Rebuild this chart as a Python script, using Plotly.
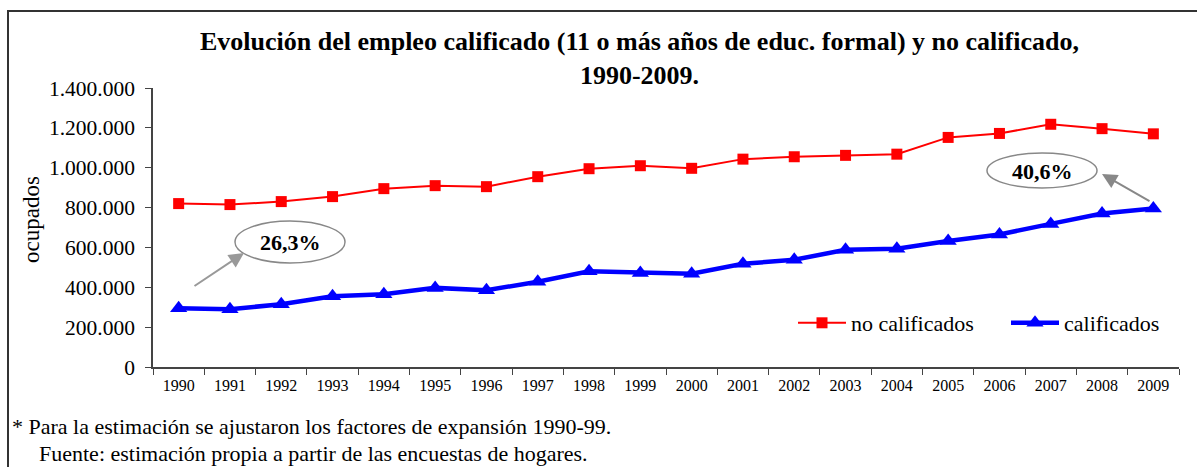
import plotly.graph_objects as go

years = [str(y) for y in range(1990, 2010)]
no_calificados = [820000, 815000, 830000, 855000, 895000, 910000, 905000, 955000, 995000, 1010000,
                  997000, 1043000, 1055000, 1062000, 1068000, 1152000, 1172000, 1218000, 1196000, 1170000]
calificados = [295000, 290000, 315000, 355000, 365000, 397000, 385000, 428000, 480000, 472000,
               468000, 518000, 538000, 588000, 593000, 632000, 665000, 718000, 770000, 795000]
y_ticks = [0, 200000, 400000, 600000, 800000, 1000000, 1200000, 1400000]

W, H = 1197, 467
ML, MR, MT, MB = 153, 18, 88, 100
PW, PH = W - ML - MR, H - MT - MB

def px(x):
    return (x - ML) / PW

def py(y):
    return (H - MB - y) / PH

FONT = "Liberation Serif, Times New Roman, serif"

fig = go.Figure()
fig.add_trace(go.Scatter(
    x=years, y=no_calificados, name="no calificados", mode="lines+markers",
    line=dict(color="#ff0000", width=2),
    marker=dict(symbol="square", size=11, color="#ff0000"),
))
fig.add_trace(go.Scatter(
    x=years, y=calificados, name="calificados", mode="lines+markers",
    line=dict(color="#0000ff", width=4.5),
    marker=dict(symbol="triangle-up", size=15, color="#0000ff"),
))

shapes = [
    # outer border
    dict(type="rect", xref="paper", yref="paper", x0=px(8), y0=py(480), x1=px(1210), y1=py(11),
         line=dict(color="#333333", width=2), layer="below"),
    # ellipses
    dict(type="circle", xref="paper", yref="paper", x0=px(235), x1=px(345), y0=py(263), y1=py(221),
         line=dict(color="#888888", width=1.5), fillcolor="white"),
    dict(type="circle", xref="paper", yref="paper", x0=px(987), x1=px(1097), y0=py(188), y1=py(153),
         line=dict(color="#888888", width=1.5), fillcolor="white"),
]

annotations = [
    dict(text="<b>Evolución del empleo calificado (11 o más años de educ. formal) y no calificado,<br>1990-2009.</b>",
         xref="paper", yref="paper", x=px(639), y=py(58), xanchor="center", yanchor="middle",
         showarrow=False, font=dict(family=FONT, size=26, color="black")),
    dict(text="ocupados", xref="paper", yref="paper", x=px(31), y=py(220), xanchor="center", yanchor="middle",
         textangle=-90, showarrow=False, font=dict(family=FONT, size=23, color="black")),
    dict(text="<b>26,3%</b>", xref="paper", yref="paper", x=px(290), y=py(242),
         xanchor="center", yanchor="middle",
         showarrow=False, font=dict(family=FONT, size=22, color="black")),
    dict(text="<b>40,6%</b>", xref="paper", yref="paper", x=px(1042), y=py(171),
         xanchor="center", yanchor="middle",
         showarrow=False, font=dict(family=FONT, size=22, color="black")),
    dict(text="", xref="paper", yref="paper", x=px(244), y=py(253), ax=193 - 244, ay=287 - 253,
         showarrow=True, arrowhead=2, arrowsize=1.5, arrowwidth=2, arrowcolor="#999999"),
    dict(text="", xref="paper", yref="paper", x=px(1102), y=py(174), ax=1151 - 1102, ay=202 - 174,
         showarrow=True, arrowhead=2, arrowsize=1.5, arrowwidth=2, arrowcolor="#888888"),
    dict(text="* Para la estimación se ajustaron los factores de expansión 1990-99.",
         xref="paper", yref="paper", x=px(10), y=py(426), xanchor="left", yanchor="middle",
         showarrow=False, font=dict(family=FONT, size=22, color="black")),
    dict(text="Fuente: estimación propia a partir de las encuestas de hogares.",
         xref="paper", yref="paper", x=px(37), y=py(453), xanchor="left", yanchor="middle",
         showarrow=False, font=dict(family=FONT, size=22, color="black")),
]

fig.update_layout(
    width=W, height=H,
    margin=dict(l=ML, r=MR, t=MT, b=MB, autoexpand=False),
    paper_bgcolor="white", plot_bgcolor="white",
    separators=",.",
    font=dict(family=FONT, color="black"),
    showlegend=True,
    legend=dict(orientation="h", x=px(793), y=py(323), xanchor="left", yanchor="middle",
                font=dict(family=FONT, size=22, color="black"), bgcolor="rgba(0,0,0,0)",
                entrywidth=150, itemwidth=48),
    shapes=shapes, annotations=annotations,
    xaxis=dict(type="category", range=[-0.5, 19.5], tickson="boundaries", ticks="outside", ticklen=6,
               tickcolor="#444444", showline=True, linecolor="#444444", linewidth=1.5,
               showgrid=False, tickfont=dict(family=FONT, size=16, color="black"),
               ticklabelstandoff=3, fixedrange=True),
    yaxis=dict(range=[0, 1400000], tickvals=y_ticks, tickformat=",d", ticks="outside", ticklen=6,
               tickcolor="#444444", showline=True, linecolor="#444444", linewidth=1.5,
               showgrid=False, zeroline=False, tickfont=dict(family=FONT, size=21.5, color="black"),
               ticklabelstandoff=6),
)

fig.write_html("out.html", config={"displayModeBar": False},
               post_script="document.body.style.margin='0';")
